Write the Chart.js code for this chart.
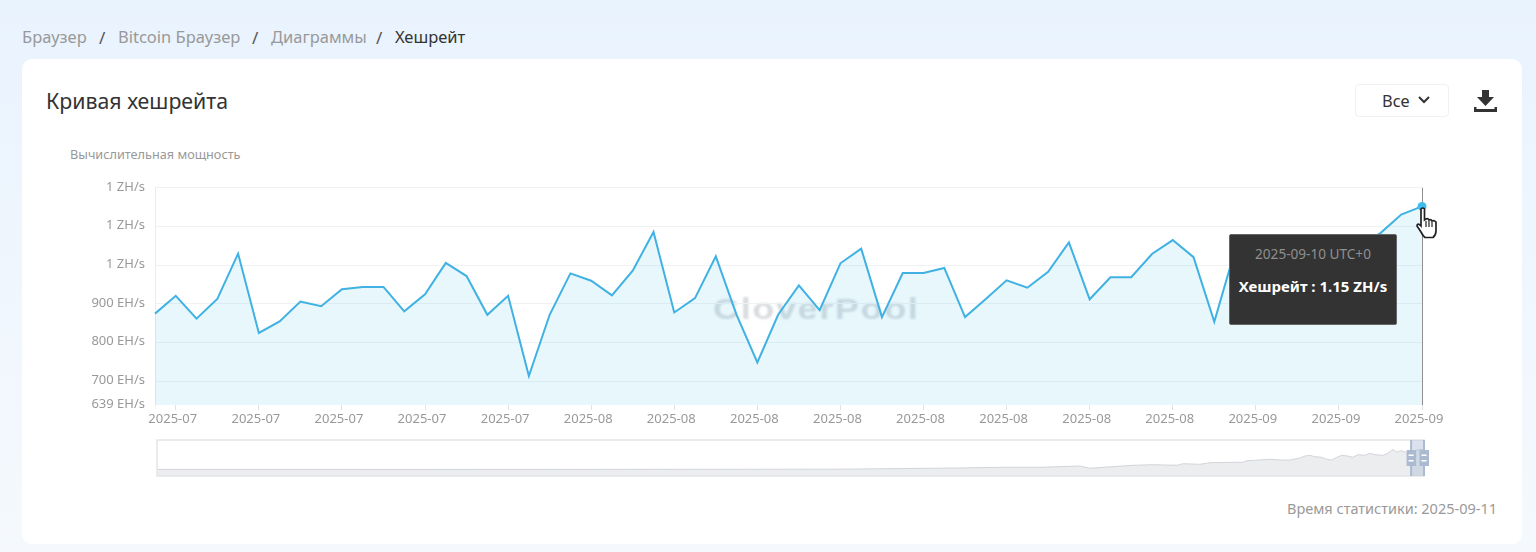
<!DOCTYPE html>
<html lang="ru">
<head>
<meta charset="utf-8">
<title>Кривая хешрейта</title>
<script src="https://cdn.jsdelivr.net/npm/chart.js@4/dist/chart.umd.min.js"></script>
<style>
html, body { margin: 0; padding: 0; }
body {
    position: relative; width: 1536px; height: 552px; overflow: hidden;
    background: linear-gradient(180deg, #e9f3fe 0%, #f5f9fd 100%);
    font-family: "Noto Sans", sans-serif; color: #333;
}
.abs { position: absolute; white-space: nowrap; line-height: 1; }
.crumb { top: 29px; font-size: 16.5px; color: #999; }
.crumb.sep { color: #555; font-size: 17px; }
.crumb.now { color: #333; }
#card { position: absolute; left: 22px; top: 59px; width: 1500px; height: 485px; background: #fff; border-radius: 10px; }
#title { left: 46px; top: 90px; font-size: 21.3px; color: #333; }
#select { position: absolute; left: 1355px; top: 84px; width: 92px; height: 31px; border: 1px solid #f1f1f1; border-radius: 4px; }
#selectText { left: 1382px; top: 93px; font-size: 16.4px; color: #333; }
#yName { left: 70px; top: 148px; font-size: 12.7px; color: #999; }
#stat { right: 39px; top: 501px; font-size: 14.5px; color: #999; }
#mark { left: 713px; top: 295px; font-family: "Liberation Sans", sans-serif; font-size: 29px; font-weight: bold; letter-spacing: 1.2px; color: #d8dcdf; filter: blur(0.8px); transform: scaleX(1.25); transform-origin: left center; }
#chart { position: absolute; left: 46px; top: 170px; }
#overview { position: absolute; left: 147px; top: 436px; }
#tip {
    position: absolute; width: 166px; height: 89px; background: #333; border: 1px solid #666; border-radius: 2px;
    text-align: center; display: none; z-index: 3;
}
#tip .t { margin-top: 12px; font-size: 13.6px; line-height: 14px; color: #8f8f8f; }
#tip .b { margin-top: 17px; font-size: 15px; line-height: 16px; color: #fff; font-weight: bold; }
svg { position: absolute; }
</style>
</head>
<body>
<div id="card"></div>
<span class="abs crumb" style="left:22px">Браузер</span>
<span class="abs crumb sep" style="left:99px">/</span>
<span class="abs crumb" style="left:118px">Bitcoin Браузер</span>
<span class="abs crumb sep" style="left:252px">/</span>
<span class="abs crumb" style="left:271px">Диаграммы</span>
<span class="abs crumb sep" style="left:376px">/</span>
<span class="abs crumb now" style="left:395px">Хешрейт</span>

<span class="abs" id="title">Кривая хешрейта</span>
<div id="select"></div>
<span class="abs" id="selectText">Все</span>
<svg style="left:1417px;top:95px" width="14" height="10" viewBox="0 0 14 10"><path d="M2 2 L7 7 L12 2" fill="none" stroke="#333" stroke-width="2"/></svg>
<svg style="left:1473px;top:89px" width="25" height="24" viewBox="0 0 25 24"><path d="M9 1 H16 V8 H21 L12.5 17 L4 8 H9 Z M1 18 H3.5 V20 H21.5 V18 H24 V23 H1 Z" fill="#333"/></svg>
<span class="abs" id="yName">Вычислительная мощность</span>
<span class="abs" id="mark">CloverPool</span>
<canvas id="chart" width="1434" height="265" style="width:1434px;height:265px"></canvas>
<canvas id="overview" width="1287" height="45" style="width:1287px;height:45px"></canvas>
<div id="tip"><div class="t"></div><div class="b"></div></div>
<svg style="left:1415px;top:207px;z-index:4" width="24" height="32" viewBox="0 0 24 32"><path d="M6 2 Q8 0 9.500 2 V13 L11 12 Q13 11 14 13 Q16 12 17 14 Q19 13 21 15 V24 Q21 28 18 30.500 H10 Q8 29 6 25 L2 19 Q2 16 5 18 L6 19 Z" fill="#fff" stroke="#222" stroke-width="1.700"/><path d="M11 14 V20 M14 14 V20 M17 15 V20" stroke="#222" stroke-width="1.200" fill="none"/></svg>
<span class="abs" id="stat">Время статистики: 2025-09-11</span>

<script>
const dates = [
    '2025-07-11','2025-07-12','2025-07-13','2025-07-14','2025-07-15','2025-07-16','2025-07-17','2025-07-18',
    '2025-07-19','2025-07-20','2025-07-21','2025-07-22','2025-07-23','2025-07-24','2025-07-25','2025-07-26',
    '2025-07-27','2025-07-28','2025-07-29','2025-07-30','2025-07-31','2025-08-01','2025-08-02','2025-08-03',
    '2025-08-04','2025-08-05','2025-08-06','2025-08-07','2025-08-08','2025-08-09','2025-08-10','2025-08-11',
    '2025-08-12','2025-08-13','2025-08-14','2025-08-15','2025-08-16','2025-08-17','2025-08-18','2025-08-19',
    '2025-08-20','2025-08-21','2025-08-22','2025-08-23','2025-08-24','2025-08-25','2025-08-26','2025-08-27',
    '2025-08-28','2025-08-29','2025-08-30','2025-08-31','2025-09-01','2025-09-02','2025-09-03','2025-09-04',
    '2025-09-05','2025-09-06','2025-09-07','2025-09-08','2025-09-09','2025-09-10'
];
// EH/s (indexes 53-58 sit behind the tooltip, so they are guesses)
const hashrate = [
    875, 921, 862, 913, 1030, 825, 855, 906, 894, 938, 944, 944, 881, 925, 1006, 972,
    872, 921, 714, 872, 979, 960, 922, 986, 1086, 878, 915, 1023, 872, 749, 872, 948,
    884, 1005, 1043, 866, 980, 980, 993, 866, 913, 961, 942, 983, 1059, 912, 969, 969,
    1029, 1065, 1021, 854, 1039, 1000, 1025, 1040, 1010, 1035, 1050, 1083, 1131, 1152
];
const yTicks = [639, 700, 800, 900, 1000, 1100, 1200];
const yLabels = ['639 EH/s', '700 EH/s', '800 EH/s', '900 EH/s', '1 ZH/s', '1 ZH/s', '1 ZH/s'];
const activeIndex = 61;

// whole history for the slider under the chart
const overviewDays = [
    0, 1000, 2000, 3283, 3845, 4066, 4244, 4436, 4484, 4691, 4787, 4902, 4931, 5013, 5061, 5171,
    5219, 5239, 5301, 5349, 5397, 5445, 5493, 5517, 5541, 5565, 5599, 5623, 5647, 5671, 5695, 5724,
    5748, 5772, 5805, 5830, 5854, 5892, 5916, 5940, 5959, 5983, 6007, 6036, 6070, 6090
];
const overviewValues = [
    290, 290, 292, 300, 352, 383, 383, 440, 339, 471, 497, 471, 541, 515, 585, 603,
    603, 673, 704, 735, 704, 704, 792, 880, 909, 851, 821, 733, 704, 821, 909, 880,
    821, 939, 909, 997, 939, 909, 997, 1173, 1056, 1115, 1026, 1100, 1173, 1152
];
const windowDays = [6028, 6090];

const tipEl = document.querySelector('#tip');
const chartEl = document.querySelector('#chart');

function htmlTooltip(context) {
    const tooltip = context.tooltip;
    if (tooltip.opacity === 0) {
        tipEl.style.display = 'none';
        return;
    }
    tipEl.querySelector('.t').textContent = tooltip.title[0];
    tipEl.querySelector('.b').textContent = tooltip.body[0].lines[0];
    tipEl.style.display = 'block';
    tipEl.style.left = (chartEl.offsetLeft + tooltip.caretX - 193) + 'px';
    tipEl.style.top = (chartEl.offsetTop + tooltip.caretY + 28) + 'px';
}

// vertical pointer line at the active point
const crosshair = {
    id: 'crosshair',
    beforeDatasetsDraw(chart) {
        const active = chart.getActiveElements();
        if (!active.length) return;
        const { ctx, chartArea } = chart;
        ctx.save();
        ctx.strokeStyle = '#8f8f8f';
        ctx.lineWidth = 1;
        ctx.beginPath();
        ctx.moveTo(Math.round(active[0].element.x) + 0.5, chartArea.top);
        ctx.lineTo(Math.round(active[0].element.x) + 0.5, chartArea.bottom);
        ctx.stroke();
        ctx.restore();
    }
};

const chart = new Chart(chartEl, {
    type: 'line',
    data: {
        labels: dates,
        datasets: [{
            label: 'Хешрейт',
            data: hashrate,
            clip: false,
            borderColor: '#3fb1e3',
            borderWidth: 2,
            backgroundColor: 'rgba(70,190,230,0.125)',
            fill: 'start',
            tension: 0,
            pointRadius: 0,
            pointHoverRadius: 4.5,
            pointHoverBorderWidth: 0,
            pointHoverBackgroundColor: '#3fbdec'
        }]
    },
    options: {
        responsive: false,
        animation: false,
        events: [],
        layout: { padding: { top: 17, right: 58, left: 0, bottom: 0 } },
        interaction: { mode: 'index', intersect: false },
        plugins: {
            legend: { display: false },
            tooltip: {
                enabled: false,
                external: htmlTooltip,
                callbacks: {
                    title: items => dates[items[0].dataIndex] + ' UTC+0',
                    label: item => item.dataset.label + ' : ' + (item.parsed.y / 1000).toFixed(2) + ' ZH/s'
                }
            }
        },
        scales: {
            x: {
                type: 'category',
                offset: false,
                afterBuildTicks: s => { s.ticks = s.ticks.filter(t => t.value % 4 === 1); },
                afterFit: s => { s.height = 30; },
                grid: { drawOnChartArea: false, drawTicks: true, tickLength: 5, color: '#dfe3e8' },
                border: { display: false },
                ticks: {
                    autoSkip: false, maxRotation: 0, padding: 1, labelOffset: -3,
                    color: '#999', font: { family: '"Noto Sans"', size: 13 },
                    callback: v => dates[v].slice(0, 7)
                }
            },
            y: {
                min: 639,
                max: 1200,
                afterBuildTicks: s => { s.ticks = yTicks.map(v => ({ value: v })); },
                afterFit: s => { s.width = 109; },
                grid: { drawTicks: false, color: c => c.tick.value === 639 ? 'transparent' : '#eff2f5' },
                border: { color: '#e9edf1' },
                ticks: {
                    padding: 10, labelOffset: -1,
                    color: '#999', font: { family: '"Noto Sans"', size: 13 },
                    callback: v => yLabels[yTicks.indexOf(v)]
                }
            }
        }
    },
    plugins: [crosshair]
});

const pick = [{ datasetIndex: 0, index: activeIndex }];
chart.setActiveElements(pick);
chart.tooltip.setActiveElements(pick, { x: 0, y: 0 });
chart.update();

// frame, selected window and the two drag handles of the slider
const sliderParts = {
    id: 'sliderParts',
    afterDatasetsDraw(c) {
        const { ctx, chartArea: a, scales } = c;
        const x0 = scales.x.getPixelForValue(windowDays[0]);
        const x1 = scales.x.getPixelForValue(windowDays[1]);
        ctx.save();
        ctx.strokeStyle = '#e3e5e8';
        ctx.lineWidth = 1.5;
        ctx.strokeRect(a.left, a.top, a.right - a.left, a.bottom - a.top);
        ctx.fillStyle = 'rgba(172,192,216,0.45)';
        ctx.fillRect(x0, a.top, x1 - x0, a.bottom - a.top);
        [x0, x1].forEach(x => {
            ctx.fillStyle = '#abbad0';
            ctx.fillRect(x - 1, a.top, 2, a.bottom - a.top);
            ctx.fillRect(x - 4.500, a.top + 10, 9.500, 16);
            ctx.fillStyle = '#fff';
            ctx.fillRect(x - 2.500, a.top + 14.500, 5, 1.500);
            ctx.fillRect(x - 2.500, a.top + 20, 5, 1.500);
        });
        ctx.restore();
    }
};

new Chart(document.querySelector('#overview'), {
    type: 'line',
    data: {
        datasets: [{
            data: overviewDays.map((d, i) => ({ x: d, y: overviewValues[i] })),
            borderColor: '#d2d4d8',
            borderWidth: 1,
            backgroundColor: '#ecedef',
            fill: 'start',
            tension: 0,
            pointRadius: 0
        }]
    },
    options: {
        responsive: false,
        animation: false,
        events: [],
        layout: { padding: { left: 10, right: 10, top: 4, bottom: 5 } },
        plugins: { legend: { display: false }, tooltip: { enabled: false } },
        scales: {
            x: { type: 'linear', display: false, min: 0, max: 6090 },
            y: { display: false, min: 0, max: 1584 }
        }
    },
    plugins: [sliderParts]
});
</script>
</body>
</html>
